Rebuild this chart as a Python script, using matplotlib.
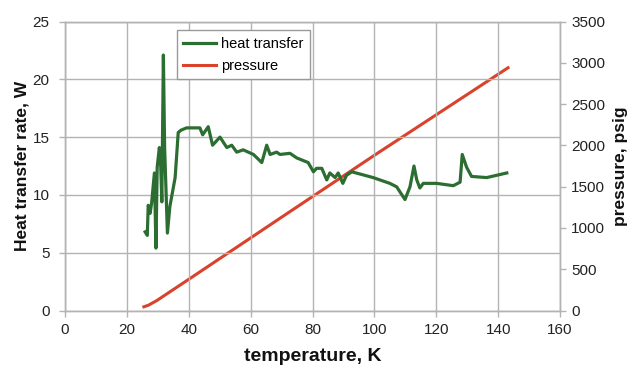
import matplotlib
matplotlib.use("Agg")
import matplotlib.pyplot as plt

plt.rcParams['font.family'] = ['Liberation Sans', 'DejaVu Sans']

# Heat transfer data (temperature K, heat transfer rate W)
ht_temp = [25.9, 26.6, 26.9, 27.5, 28.0, 28.9, 29.4, 29.8, 30.5, 30.9, 31.3, 31.8, 32.2,
           33.1, 33.9, 35.6, 36.6, 37.5, 39.3, 43.6, 44.5, 46.3, 47.7, 50.1, 52.3, 53.9, 55.5,
           57.6, 60.9, 63.6, 65.2, 66.3, 68.4, 69.5, 72.7, 74.9, 78.6, 80.3, 81.3, 83.0,
           84.6, 85.6, 87.3, 88.3, 89.8, 91.0, 92.7, 99.6, 105.0, 107.2, 109.9, 111.5, 112.8,
           113.7, 114.7, 115.8, 120.1, 125.5, 127.7, 128.4, 129.8, 131.4, 136.3, 142.8]
ht_rate = [6.8, 6.5, 9.1, 8.4, 9.3, 11.9, 5.4, 12.4, 14.1, 12.8, 9.4, 22.1, 14.1,
           6.7, 9.0, 11.5, 15.4, 15.6, 15.8, 15.8, 15.2, 15.9, 14.3, 15.0, 14.1, 14.3, 13.7,
           13.9, 13.5, 12.8, 14.3, 13.5, 13.7, 13.5, 13.6, 13.2, 12.8, 12.0, 12.3, 12.3,
           11.3, 11.9, 11.5, 11.9, 11.0, 11.7, 12.0, 11.5, 11.0, 10.7, 9.6, 10.7, 12.5,
           11.3, 10.6, 11.0, 11.0, 10.8, 11.1, 13.5, 12.4, 11.6, 11.5, 11.9]

# Pressure data (temperature K, psig)
p_temp = [25.5, 27.0, 29.6, 40.0, 59.0, 70.0, 100.0, 143.2]
p_psig = [45, 65, 119, 378, 854, 1130, 1880, 2940]

x_ticks = [0, 20, 40, 60, 80, 100, 120, 140, 160]
y_ticks = [0, 5, 10, 15, 20, 25]
y2_ticks = [0, 500, 1000, 1500, 2000, 2500, 3000, 3500]

fig = plt.figure(figsize=(6.31, 3.71), dpi=100)
ax = fig.add_axes([0.103, 0.163, 0.7845, 0.779])
ax2 = ax.twinx()

green = '#2c6e31'
red = '#d9432b'
grid_c = '#b3b3b3'

l1, = ax.plot(ht_temp, ht_rate, color=green, lw=2.3, label='heat transfer', zorder=3,
              solid_joinstyle='round')
l2, = ax2.plot(p_temp, p_psig, color=red, lw=2.2, label='pressure', zorder=3)

ax.set_xlim(0, 160)
ax.set_ylim(0, 25)
ax2.set_ylim(0, 3500)
ax.set_xticks(x_ticks)
ax.set_yticks(y_ticks)
ax2.set_yticks(y2_ticks)

ax.grid(True, color=grid_c, lw=1.0)
ax.set_axisbelow(True)
for a in (ax, ax2):
    for s in a.spines.values():
        s.set_color(grid_c)
        s.set_linewidth(1.0)
ax.tick_params(axis='y', colors=grid_c, labelcolor='#222222', labelsize=11, length=4, width=1, pad=7)
ax.tick_params(axis='x', colors=grid_c, labelcolor='#222222', labelsize=11, length=4, width=1, pad=5)
ax2.tick_params(axis='y', colors=grid_c, labelcolor='#222222', labelsize=11, length=4, width=1, pad=4)

ax.set_xlabel('temperature, K', fontsize=14, fontweight='bold', color='#111111', labelpad=8)
ax.set_ylabel('Heat transfer rate, W', fontsize=12.5, fontweight='bold', color='#111111', labelpad=2)
ax2.set_ylabel('pressure, psig', fontsize=12.5, fontweight='bold', color='#111111', labelpad=6)

leg = ax.legend(handles=[l1, l2], loc='upper left', bbox_to_anchor=(0.226, 0.97),
                borderaxespad=0, fontsize=10.5, frameon=True, fancybox=False,
                edgecolor='#999999', framealpha=1, handlelength=2.2, handletextpad=0.4,
                borderpad=0.45, labelspacing=0.55)
leg.set_zorder(5)
ax.set_zorder(ax2.get_zorder() + 1)
ax.patch.set_visible(False)

fig.savefig('out.png', dpi=100)
